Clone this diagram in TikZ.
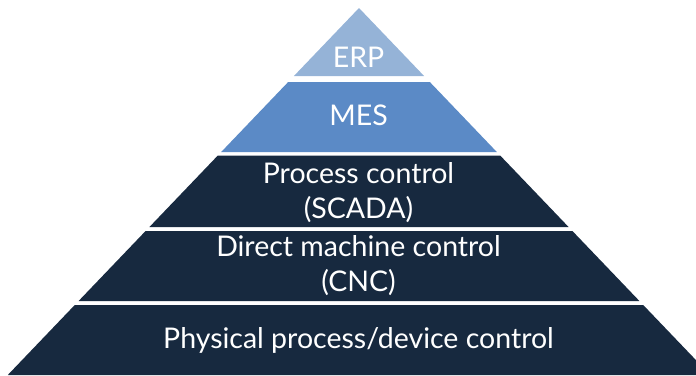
\documentclass[tikz,border=0pt]{standalone}
\usepackage{fontspec}
\setmainfont{Lato}
\definecolor{erpblue}{HTML}{95B3D7}
\definecolor{mesblue}{HTML}{5B8AC6}
\definecolor{navy}{HTML}{17293F}
% one band of the pyramid, between heights #1 and #2, filled with colour #3
\newcommand{\pyrband}[3]{%
  \pgfmathsetmacro\xlt{359-0.957*(#1-8)}%
  \pgfmathsetmacro\xrt{359+0.957*(#1-8)}%
  \pgfmathsetmacro\xlb{359-0.957*(#2-8)}%
  \pgfmathsetmacro\xrb{359+0.957*(#2-8)}%
  \fill[#3] (\xlt,#1) -- (\xrt,#1) -- (\xrb,#2) -- (\xlb,#2) -- cycle;}
\tikzset{
  bandtext/.style={text=white, align=center, inner sep=0pt,
    font=\fontsize{28.5}{35}\selectfont}
}
\begin{document}
\begin{tikzpicture}[x=1pt, y=-1pt]
  \useasboundingbox (0,0) rectangle (696,375);
  \clip (0,0) rectangle (696,375);
  \pyrband{8}{76}{erpblue}
  \pyrband{82}{152}{mesblue}
  \pyrband{155.5}{227}{navy}
  \pyrband{231}{301}{navy}
  \pyrband{305}{375}{navy}
  \node[bandtext] (erp) at (358.5,57) {ERP};
  \node[bandtext] (mes) at (358.5,115.5) {MES};
  \node[bandtext] (scada) at (358.5,193) {Process control\\(SCADA)};
  \node[bandtext] (cnc) at (358.5,265.5) {Direct machine control\\(CNC)};
  \node[bandtext] (phys) at (358.5,340) {Physical process/device control};
\end{tikzpicture}
\end{document}
